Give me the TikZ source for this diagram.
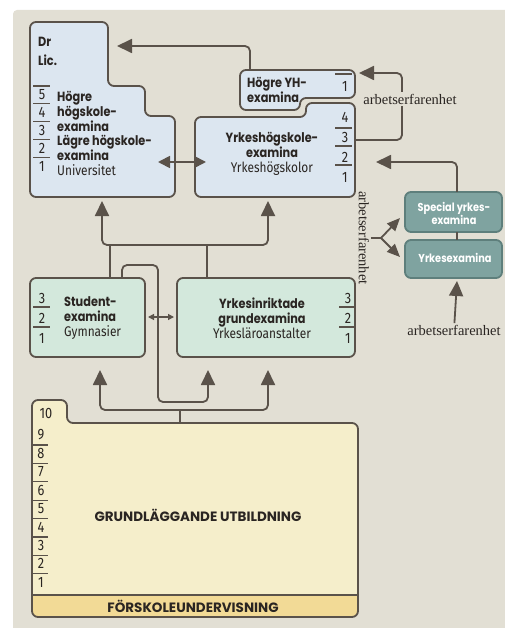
\documentclass[tikz,border=0pt]{standalone}
\usepackage{fontspec}
\usepackage{tikz}
\usetikzlibrary{arrows.meta}

\setmainfont{Liberation Serif}
\newfontfamily\labfont[FakeStretch=0.85]{Poppins}
\newfontfamily\condfont[FakeStretch=0.85]{Fira Sans}
\newfontfamily\capfont{Poppins}
\newcommand{\lightline}[1]{{\condfont\mdseries\fontsize{14}{14.8}\selectfont #1}}

\definecolor{bgbeige}{HTML}{E2DFD4}
\definecolor{edgebrown}{HTML}{5A524A}
\definecolor{inkdark}{HTML}{2A2522}
\definecolor{uniblue}{HTML}{DCE6F0}
\definecolor{gymgreen}{HTML}{D3E8DC}
\definecolor{yrkteal}{HTML}{7FA3A0}
\definecolor{yrktealedge}{HTML}{5E7F7C}
\definecolor{grundyellow}{HTML}{F5EECB}
\definecolor{forskyellow}{HTML}{F2DA96}

\tikzset{
	box/.style={draw=edgebrown, line width=1.8pt, rounded corners=6pt},
	link/.style={draw=edgebrown, line width=1.8pt, rounded corners=5pt},
	arr/.style={link, -{Triangle[width=14pt,length=15pt]}},
	twoarr/.style={link, {Triangle[width=14pt,length=15pt]}-{Triangle[width=14pt,length=15pt]}},
	midarr/.style={link, {Triangle[width=12pt,length=12pt]}-{Triangle[width=12pt,length=12pt]}},
	forkarr/.style={link, -{Triangle[width=11pt,length=13pt]}},
	smallarr/.style={link, line width=1.2pt, {Triangle[width=6pt,length=6pt]}-{Triangle[width=6pt,length=6pt]}},
	tick/.style={draw=edgebrown, line width=1.3pt},
	lab/.style={inner sep=0pt, text=inkdark, font=\labfont\bfseries\fontsize{13.3}{14.8}\selectfont},
	whitelab/.style={inner sep=0pt, text=white, font=\labfont\bfseries\fontsize{11.5}{13}\selectfont},
	numtxt/.style={inner sep=0pt, text=inkdark, font=\condfont\fontsize{15}{15}\selectfont},
	caplab/.style={inner sep=0pt, text=inkdark, font=\capfont\bfseries\fontsize{13.5}{14}\selectfont},
	serlab/.style={inner sep=1.5pt, fill=bgbeige, text=inkdark, font=\fontsize{14.5}{15}\selectfont}
}

\begin{document}
\begin{tikzpicture}[x=1pt, y=-1pt]
	\useasboundingbox (0,0) rectangle (505,628);
	\fill[bgbeige, rounded corners=4pt] (13,10) rectangle (530,650);

	% hogskolor
	\draw[box, fill=uniblue] (30,22) -- (108,22) -- (108,86) -- (145,86) -- (145,116) -- (175,116) -- (175,197) -- (30,197) -- cycle;
	\draw[box, fill=uniblue] (240,70) -- (355,70) -- (355,98) -- (300,98) -- (300,110) -- (240,110) -- cycle;
	\draw[box, fill=uniblue] (195,117) -- (306,117) -- (306,103) -- (355,103) -- (355,197) -- (195,197) -- cycle;

	% andra stadiet
	\draw[box, fill=gymgreen] (30,278) rectangle (145,357);
	\draw[box, fill=gymgreen] (177,278) rectangle (355,357);
	\draw[box, draw=yrktealedge, fill=yrkteal] (405,192) rectangle (502,232);
	\draw[box, draw=yrktealedge, fill=yrkteal] (405,240) rectangle (502,278);

	% grundskola
	\begin{scope}
		\clip[rounded corners=6pt] (32,400) -- (67,400) -- (67,423) -- (358,423) -- (358,617) -- (32,617) -- cycle;
		\fill[grundyellow] (20,390) rectangle (370,595);
		\fill[forskyellow] (20,595) rectangle (370,630);
	\end{scope}
	\draw[box] (32,400) -- (67,400) -- (67,423) -- (358,423) -- (358,617) -- (32,617) -- cycle;
	\draw[tick, line width=1.8pt] (32,595) -- (358,595);

	% number columns
	\foreach \n [count=\i from 0] in {5,4,3,2,1} {
		\node[numtxt] (univ-n\n) at (42,{95+17.8*\i}) {\n};
		\draw[tick] (33,{86+17.8*\i}) -- (50,{86+17.8*\i});
	}
	\node[numtxt] (hyh-n1) at (345,86) {1};
	\draw[tick] (335,74) -- (352,74);
	\foreach \n [count=\i from 0] in {4,3,2,1} {
		\node[numtxt] (yhs-n\n) at (345,{117+20*\i}) {\n};
	}
	\foreach \n [count=\i from 0] in {3,2,1} {
		\node[numtxt] (stud-n\n) at (42,{298+20*\i}) {\n};
		\node[numtxt] (yrk-n\n) at (348,{298+20*\i}) {\n};
	}
	\foreach \y in {128,146,165} \draw[tick] (335,\y) -- (352,\y);
	\foreach \y in {307,327} {
		\draw[tick] (33,\y) -- (50,\y);
		\draw[tick] (339,\y) -- (356,\y);
	}
	\node[numtxt] (grund-n10) at (46,413) {10};
	\foreach \n [count=\i from 0] in {9,8,7,6,5,4,3,2,1} {
		\node[numtxt] (grund-n\n) at (41,{435+18.4*\i}) {\n};
	}
	\foreach \i in {0,...,7} \draw[tick] (33,{445+18.4*\i}) -- (48,{445+18.4*\i});

	% texts
	\node[lab, anchor=west] (dr) at (38,42) {Dr};
	\node[lab, anchor=west] (lic) at (38,60) {Lic.};
	\node[lab, anchor=north west, align=left] (univ-txt) at (57,91) {Högre\\högskole-\\examina\\Lägre högskole-\\examina\\\lightline{Universitet}};
	\node[lab, anchor=west, align=left] (hyh-txt) at (247,90) {Högre YH-\\examina};
	\node[lab, align=center] (yhs-txt) at (272,154) {Yrkeshögskole-\\examina\\\lightline{Yrkeshögskolor}};
	\node[lab, anchor=west, align=left] (stud-txt) at (64,318) {Student-\\examina\\\lightline{Gymnasier}};
	\node[lab, align=center] (yrk-txt) at (262,318) {Yrkesinriktade\\grundexamina\\\lightline{Yrkesläroanstalter}};
	\node[whitelab, align=center] (spec-txt) at (454,213) {Special yrkes-\\examina};
	\node[whitelab] (yex-txt) at (455,258) {Yrkesexamina};
	\node[caplab] (grund-txt) at (198,515) {GRUNDLÄGGANDE UTBILDNING};
	\node[caplab] (forsk-txt) at (193,606) {FÖRSKOLEUNDERVISNING};

	% connection points
	\coordinate (univ-dr) at (117,46);
	\coordinate (hyh-top) at (250,70);
	\coordinate (hyh-in) at (359,73);
	\coordinate (yhs-out) at (355,140);
	\coordinate (arb-corner) at (402,100);
	\coordinate (yhs-in) at (376,162);
	\coordinate (spec-top) at (457,192);
	\coordinate (spec-bot) at (457,232);
	\coordinate (yex-top) at (457,240);
	\coordinate (yex-in) at (457,281);
	\coordinate (univ-yhs-l) at (158,162);
	\coordinate (univ-yhs-r) at (206,162);
	\coordinate (univ-in) at (102,201);
	\coordinate (yhs-bot-in) at (268,201);
	\coordinate (upper-join) at (185,245);
	\coordinate (stud-top) at (110,278);
	\coordinate (yrk-top) at (207,278);
	\coordinate (stud-loop) at (122,278);
	\coordinate (loop-ne) at (158,265);
	\coordinate (loop-se) at (158,402);
	\coordinate (yrk-in-a) at (208,370);
	\coordinate (stud-in) at (100,370);
	\coordinate (yrk-in-b) at (268,370);
	\coordinate (grund-top) at (180,423);
	\coordinate (lower-join) at (180,410);
	\coordinate (stud-yrk-l) at (148,317);
	\coordinate (stud-yrk-r) at (174,317);
	\coordinate (fork-mid) at (381,238);
	\coordinate (spec-in) at (400,218);
	\coordinate (yex-side) at (400,257);

	% connectors
	\draw[arr] (hyh-top) |- (univ-dr);
	\draw[arr] (yhs-out) -| (arb-corner) |- (hyh-in);
	\draw[arr] (spec-top) |- (yhs-in);
	\draw[link] (spec-bot) -- (yex-top);
	\draw[midarr] (univ-yhs-l) -- (univ-yhs-r);
	\draw[twoarr] (univ-in) |- (upper-join) -| (yhs-bot-in);
	\draw[link] (stud-top) -- (stud-top |- upper-join);
	\draw[link] (yrk-top) -- (yrk-top |- upper-join);
	\draw[arr] (stud-loop) |- (loop-ne) -- (loop-se) -| (yrk-in-a);
	\draw[twoarr] (stud-in) |- (lower-join) -| (yrk-in-b);
	\draw[link] (grund-top) -- (lower-join);
	\draw[smallarr] (stud-yrk-l) -- (stud-yrk-r);

	% arbetserfarenhet
	\node[serlab] (arb-top) at (410,99) {arbetserfarenhet};
	\node[serlab, rotate=-90] (arb-side) at (364,238) {arbetserfarenhet};
	\node[serlab] (arb-bot) at (454,330) {arbetserfarenhet};
	\draw[arr] (arb-bot) -- (yex-in);
	\draw[link] (arb-side.north) -- (fork-mid);
	\draw[forkarr] (fork-mid) -- (spec-in);
	\draw[forkarr] (fork-mid) -- (yex-side);
\end{tikzpicture}
\end{document}
